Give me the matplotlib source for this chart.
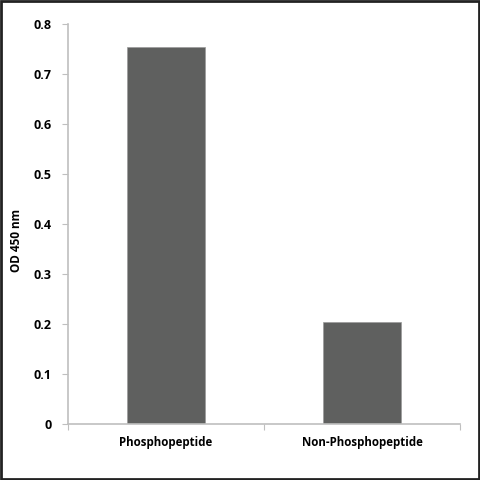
import matplotlib.pyplot as plt
from matplotlib.patches import Rectangle

# Data
categories = ['Phosphopeptide', 'Non-Phosphopeptide']
od_values = [0.754, 0.203]

plt.rcParams['font.family'] = ['Open Sans', 'DejaVu Sans']

fig = plt.figure(figsize=(4.8, 4.8), dpi=100)
ax = fig.add_axes([0.1417, 0.1167, 0.8166, 0.8333])

positions = list(range(len(categories)))
ax.bar(positions, od_values, width=0.4, color='#5f605f', edgecolor='#9a9a9a', linewidth=0.5)

ax.set_xlim(-0.5, len(categories) - 0.5)
ax.set_ylim(0, 0.8)
ax.set_yticks([0, 0.1, 0.2, 0.3, 0.4, 0.5, 0.6, 0.7, 0.8])
ax.set_yticklabels(['0', '0.1', '0.2', '0.3', '0.4', '0.5', '0.6', '0.7', '0.8'],
                   fontsize=9, fontweight='bold')

# boundaries get tick marks, category centers get the labels
ax.set_xticks([-0.5, 0.5, 1.5])
ax.set_xticklabels([])
ax.set_xticks(positions, minor=True)
ax.set_xticklabels(categories, minor=True, fontsize=8.3, fontweight='bold')
ax.tick_params(axis='x', which='minor', length=0, pad=9)
ax.tick_params(axis='x', which='major', length=4, color='#bfbfbf')
ax.tick_params(axis='y', length=4, color='#bfbfbf', pad=8)

for side in ['top', 'right']:
    ax.spines[side].set_visible(False)
for side in ['left', 'bottom']:
    ax.spines[side].set_color('#bfbfbf')
    ax.spines[side].set_linewidth(1.2)

fig.text(0.035, 0.5, 'OD 450 nm', rotation=90, va='center', ha='center',
         fontsize=8.5, fontweight='bold')

# black frame around the whole picture
fig.patches.append(Rectangle((0.002, 0.002), 0.996, 0.996, transform=fig.transFigure,
                             fill=False, edgecolor='#222222', linewidth=2))

fig.savefig('out.png', dpi=100)
